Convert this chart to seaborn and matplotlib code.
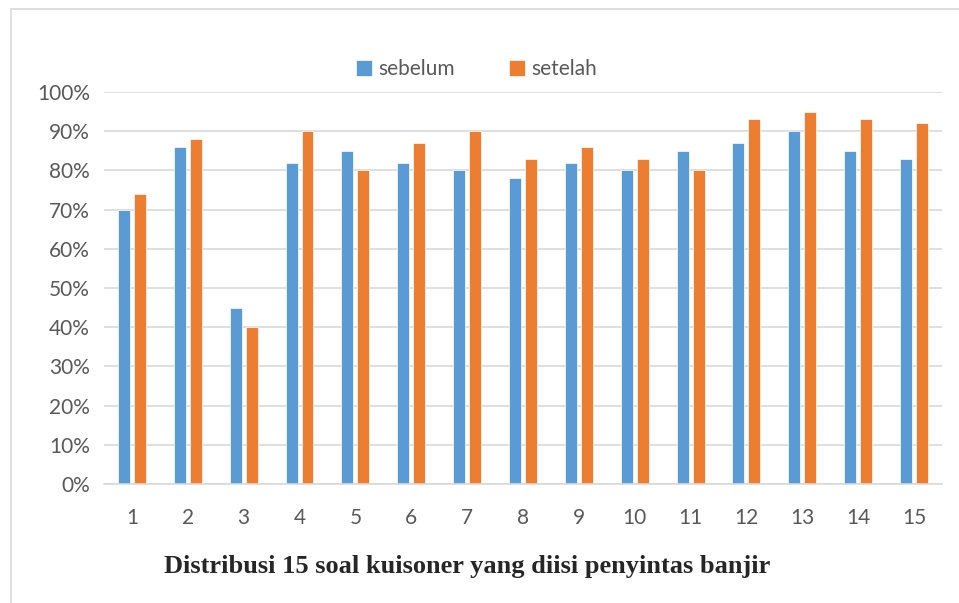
import numpy as np
import pandas as pd
import seaborn as sns
import matplotlib.pyplot as plt
from matplotlib.lines import Line2D
from matplotlib.ticker import PercentFormatter

soal = [str(i) for i in range(1, 16)]
sebelum = [70, 86, 45, 82, 85, 82, 80, 78, 82, 80, 85, 87, 90, 85, 83]
setelah = [74, 88, 40, 90, 80, 87, 90, 83, 86, 83, 80, 93, 95, 93, 92]

df = pd.DataFrame({
    "soal": soal * 2,
    "nilai": [v / 100 for v in sebelum + setelah],
    "kelompok": ["sebelum"] * 15 + ["setelah"] * 15,
})

sns.set_style("white")
plt.rcParams['font.family'] = ['Lato', 'DejaVu Sans']

fig = plt.figure(figsize=(9.59, 6.03), dpi=100)
ax = fig.add_axes([0.1084, 0.1973, 0.8739, 0.6501])

sns.barplot(data=df, x="soal", y="nilai", hue="kelompok",
            palette=["#5B9BD5", "#ED7D31"], saturation=1,
            width=0.572, gap=0.25,
            edgecolor="white", linewidth=0.5, ax=ax)

ax.set_ylim(0, 1.0)
ax.set_xlim(-0.5, 14.5)
ax.set_yticks(np.arange(0, 1.01, 0.1))
ax.yaxis.set_major_formatter(PercentFormatter(1.0, decimals=0))
ax.grid(axis="y", color="#D9D9D9", linewidth=1.2)
ax.set_axisbelow(True)
for s in ["top", "right", "left"]:
    ax.spines[s].set_visible(False)
ax.spines["bottom"].set_color("#D9D9D9")
ax.spines["bottom"].set_linewidth(1.2)
ax.tick_params(axis="both", length=0, labelsize=15, labelcolor="#595959")
ax.tick_params(axis="x", pad=17)
ax.tick_params(axis="y", pad=10)
ax.set_xlabel("")
ax.set_ylabel("")

sns.move_legend(ax, "center", bbox_to_anchor=(0.497, 0.885),
                bbox_transform=fig.transFigure, ncol=2, frameon=False,
                title=None, fontsize=15, handlelength=0.75, handleheight=0.75,
                handletextpad=0.3, columnspacing=2.6)
for t in ax.get_legend().get_texts():
    t.set_color("#595959")

fig.text(0.487, 0.061, "Distribusi 15 soal kuisoner yang diisi penyintas banjir",
         ha="center", va="center", fontsize=19, fontweight="bold",
         family=["Liberation Serif", "DejaVu Serif"])

fig.add_artist(Line2D([10.5 / 959, 10.5 / 959], [0, 1 - 8.5 / 603],
                      color="#D9D9D9", linewidth=1.2, transform=fig.transFigure))
fig.add_artist(Line2D([10.5 / 959, 1], [1 - 8.5 / 603, 1 - 8.5 / 603],
                      color="#D9D9D9", linewidth=1.2, transform=fig.transFigure))

fig.savefig("out.png", dpi=100)
